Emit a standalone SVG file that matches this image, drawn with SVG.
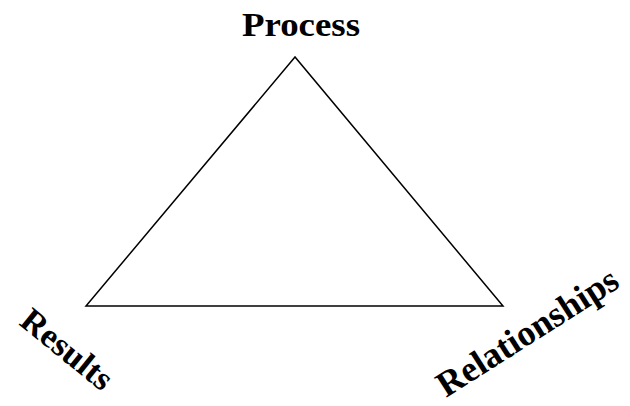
<svg xmlns="http://www.w3.org/2000/svg" width="630" height="406" viewBox="0 0 630 406">
<style>
.lbl{font-family:"Liberation Serif","Times New Roman",serif;font-weight:bold;font-size:34px;fill:#000}
.edge{fill:none;stroke:#000;stroke-width:1.5;stroke-linejoin:miter}
</style>
<rect width="630" height="406" fill="#fff"/>
<g id="connectors">
<path class="edge" d="M295,57 L86,306 L503,306 Z"/>
</g>
<g id="process"><text class="lbl" x="242" y="36" textLength="118" lengthAdjust="spacingAndGlyphs">Process</text></g>
<g id="results"><text class="lbl" transform="translate(18,324) rotate(39)" textLength="108" lengthAdjust="spacingAndGlyphs">Results</text></g>
<g id="relationships"><text class="lbl" style="font-size:36px" transform="translate(446,398) rotate(-32.5)" textLength="208" lengthAdjust="spacingAndGlyphs">Relationships</text></g>
</svg>
